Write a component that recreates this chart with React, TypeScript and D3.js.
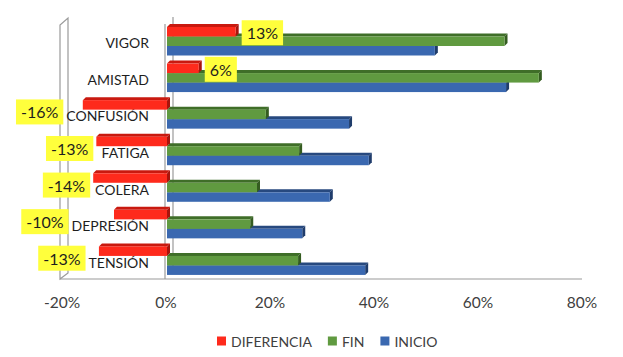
import React, { useEffect, useRef } from "react";
import * as d3 from "d3";

const categories = ["VIGOR", "AMISTAD", "CONFUSIÓN", "FATIGA", "COLERA", "DEPRESIÓN", "TENSIÓN"];
const inicio = [51.7, 65.4, 35.2, 39.0, 31.5, 26.2, 38.3];
const fin = [65.1, 71.7, 19.2, 25.6, 17.5, 16.2, 25.4];
const diferencia = [13.4, 6.3, -16.0, -13.4, -14.0, -10.0, -12.9];
const xTicks = [-20, 0, 20, 40, 60, 80];
const seriesNames = ["DIFERENCIA", "FIN", "INICIO"];

const W = 623;
const H = 357;
const FONT = "Lato, 'Open Sans', sans-serif";

const colors: Record<string, { front: string; top: string; side: string }> = {
  DIFERENCIA: { front: "#fe2a1c", top: "#c9190f", side: "#a8140c" },
  FIN: { front: "#609a40", top: "#3f6e28", side: "#345c20" },
  INICIO: { front: "#3a68b0", top: "#27497f", side: "#1f3c6b" },
};

export default function App() {
  const ref = useRef<SVGSVGElement | null>(null);

  useEffect(() => {
    const svg = d3.select(ref.current);
    svg.selectAll("*").remove();

    const x = d3.scaleLinear().domain([-20, 80]).range([62, 582]);
    const y = d3.scaleBand<string>().domain(categories).range([24.5, 280.5]).padding(0);
    const inner = d3.scaleBand<string>().domain(seriesNames).range([2.5, 31]).padding(0);
    const dx = 3, dy = -3;
    const x0 = x(0);

    const grey = "#9a9a9a";
    const g = svg.append("g");
    g.append("path")
      .attr("d", `M60,279 L60,25 L68,18 L68,273 Z`)
      .attr("fill", "none").attr("stroke", grey).attr("stroke-width", 1.2);
    g.append("line").attr("x1", x0 + 7).attr("x2", x0 + 7).attr("y1", 17).attr("y2", 274)
      .attr("stroke", grey).attr("stroke-width", 1.2);
    g.append("line").attr("x1", x0 - 1).attr("x2", x0 - 1).attr("y1", 24).attr("y2", 279)
      .attr("stroke", grey).attr("stroke-width", 1.2);
    g.append("line").attr("x1", 60).attr("x2", 582).attr("y1", 279).attr("y2", 279)
      .attr("stroke", grey).attr("stroke-width", 1.2);

    const seriesData: Record<string, number[]> = { DIFERENCIA: diferencia, FIN: fin, INICIO: inicio };

    const catText = svg.append("g").selectAll("text").data(categories).join("text")
      .attr("x", 149)
      .attr("y", (d) => (y(d) as number) + y.bandwidth() / 2)
      .attr("text-anchor", "end")
      .attr("dominant-baseline", "central")
      .attr("font-family", FONT)
      .attr("font-size", 14)
      .attr("fill", "#1e1e1e")
      .text((d) => d);

    const textLeft: number[] = [];
    catText.each(function () {
      const w = (this as SVGTextElement).getComputedTextLength();
      textLeft.push(149 - w);
    });

    const order = ["INICIO", "FIN", "DIFERENCIA"];
    const barsG = svg.append("g");
    categories.forEach((c, i) => {
      order.forEach((s) => {
        const v = seriesData[s][i];
        const x1 = v >= 0 ? x0 + 1 : x(v);
        const x2 = v >= 0 ? x(v) : x0 + 1;
        const yt = (y(c) as number) + (inner(s) as number);
        const h = inner.bandwidth();
        const col = colors[s];
        barsG.append("path")
          .attr("d", `M${x1},${yt} L${x1 + dx},${yt + dy} L${x2 + dx},${yt + dy} L${x2},${yt} Z`)
          .attr("fill", col.top);
        barsG.append("path")
          .attr("d", `M${x2},${yt} L${x2 + dx},${yt + dy} L${x2 + dx},${yt + h + dy} L${x2},${yt + h} Z`)
          .attr("fill", col.side);
        barsG.append("rect")
          .attr("x", x1).attr("y", yt).attr("width", x2 - x1).attr("height", h)
          .attr("fill", col.front);
      });
    });

    const fmt = (v: number) => `${Math.round(v)}%`;
    const lblG = svg.append("g");
    categories.forEach((c, i) => {
      const v = diferencia[i];
      const t = lblG.append("text")
        .attr("font-family", FONT).attr("font-size", 16).attr("fill", "#1e1e1e")
        .attr("dominant-baseline", "central")
        .text(fmt(v));
      const tw = (t.node() as SVGTextElement).getComputedTextLength();
      const bw = tw + 10;
      const bh = 25;
      let bx: number, cy: number;
      const redTop = (y(c) as number) + (inner("DIFERENCIA") as number);
      if (v >= 0) {
        bx = x(v) + dx + 3;
        cy = redTop + inner.bandwidth() / 2 + 1;
      } else {
        bx = Math.min(x(v), textLeft[i]) - 3 - bw;
        cy = (y(c) as number) + y.bandwidth() / 2 - 4;
      }
      lblG.insert("rect", "text")
        .attr("x", bx).attr("y", cy - bh / 2).attr("width", bw).attr("height", bh)
        .attr("fill", "#ffff3c");
      t.attr("x", bx + 5).attr("y", cy);
    });
    lblG.selectAll("text").raise();

    svg.append("g").selectAll("text").data(xTicks).join("text")
      .attr("x", (d) => x(d))
      .attr("y", 302)
      .attr("text-anchor", "middle")
      .attr("dominant-baseline", "central")
      .attr("font-family", FONT).attr("font-size", 15.5).attr("fill", "#404040")
      .text((d) => `${d}%`);

    const legG = svg.append("g");
    let lx = 217;
    const ly = 341;
    seriesNames.forEach((s) => {
      legG.append("rect").attr("x", lx).attr("y", ly - 4.5).attr("width", 9).attr("height", 9)
        .attr("fill", colors[s].front);
      const t = legG.append("text").attr("x", lx + 14).attr("y", ly)
        .attr("dominant-baseline", "central")
        .attr("font-family", FONT).attr("font-size", 14).attr("fill", "#404040")
        .text(s);
      const tw = (t.node() as SVGTextElement).getComputedTextLength();
      lx = lx + 14 + tw + 16;
    });
  }, []);

  return (
    <svg
      ref={ref}
      width={W}
      height={H}
      style={{ position: "absolute", left: 0, top: 0, background: "#fff" }}
    />
  );
}
